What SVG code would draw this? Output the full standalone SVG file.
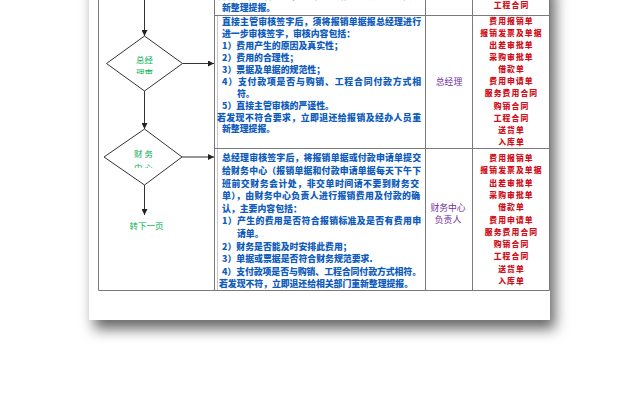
<svg xmlns="http://www.w3.org/2000/svg" width="640" height="407" viewBox="0 0 640 407">
  <defs>
    <filter id="shadow" x="-10%" y="-10%" width="125%" height="130%">
      <feDropShadow dx="5" dy="9" stdDeviation="7" flood-color="#000" flood-opacity="0.6"/>
    </filter>
    <marker id="arr" markerWidth="6" markerHeight="6" refX="6" refY="3" orient="auto" markerUnits="userSpaceOnUse">
      <path d="M0,0 L6,3 L0,6 Z" fill="#222"/>
    </marker>
    <clipPath id="clipD1"><rect x="100" y="40" width="90" height="34"/></clipPath>
    <clipPath id="clipD2"><rect x="100" y="135" width="90" height="33"/></clipPath>
  </defs>
  <style>
    .grid { stroke: #7a7a7a; stroke-width: 1; fill: none; }
    .flow { stroke: #333; stroke-width: 1; fill: none; }
    .dia { stroke: #333; stroke-width: 1; fill: #fff; }
    .blue { font-family: "Noto Sans CJK SC", "Noto Sans", sans-serif; font-size: 8.9px; font-weight: 900; fill: #0f5cbc; }
    .purple { font-family: "Noto Sans CJK SC", sans-serif; font-size: 8.8px; fill: #7030a0; text-anchor: middle; }
    .red { font-family: "Noto Sans CJK SC", sans-serif; font-size: 7.8px; font-weight: 900; fill: #d0101b; text-anchor: middle; letter-spacing: 1.1px; }
    .green { font-family: "Noto Sans CJK SC", sans-serif; font-size: 8.5px; fill: #00b050; text-anchor: middle; }
  </style>

  <rect x="0" y="0" width="640" height="407" fill="#fff"/>
  <rect id="paper" x="89" y="-20" width="461" height="340" fill="#fff" filter="url(#shadow)"/>

  <g id="table">
    <line class="grid" x1="98.5" y1="0" x2="98.5" y2="290.5"/>
    <line class="grid" x1="214.5" y1="0" x2="214.5" y2="290.5"/>
    <line x1="217.5" y1="15" x2="217.5" y2="290" stroke="#c8c8c8" stroke-width="1"/>
    <line class="grid" x1="425.5" y1="0" x2="425.5" y2="290.5"/>
    <line class="grid" x1="472.5" y1="0" x2="472.5" y2="290.5"/>
    <line class="grid" x1="549.5" y1="0" x2="549.5" y2="290.5"/>
    <line class="grid" x1="214.5" y1="15.5" x2="549.5" y2="15.5"/>
    <line class="grid" x1="214.5" y1="148.5" x2="549.5" y2="148.5"/>
    <line class="grid" x1="98.5" y1="290.5" x2="549.5" y2="290.5"/>
  </g>

  <g id="connectors">
    <line class="flow" x1="144.5" y1="0" x2="144.5" y2="36" marker-end="url(#arr)"/>
    <line class="flow" x1="182.5" y1="63.5" x2="214" y2="63.5" marker-end="url(#arr)"/>
    <line class="flow" x1="144.5" y1="91" x2="144.5" y2="129" marker-end="url(#arr)"/>
    <line class="flow" x1="182" y1="157" x2="214" y2="157" marker-end="url(#arr)"/>
    <line class="flow" x1="144.5" y1="185" x2="144.5" y2="215" marker-end="url(#arr)"/>
  </g>

  <g id="node-zongjingli">
    <polygon class="dia" points="144.5,36 182.5,63.5 144.5,91 106.5,63.5"/>
    <text class="green" x="144.5" y="63">总经</text>
    <text class="green" x="144.5" y="76" clip-path="url(#clipD1)">理审</text>
  </g>

  <g id="node-caiwu">
    <polygon class="dia" points="144.5,129 182,157 144.5,185 104,157"/>
    <text class="green" x="143.5" y="157">财 务</text>
    <text class="green" x="143.5" y="170.5" clip-path="url(#clipD2)">中 心</text>
  </g>

  <g id="node-next">
    <text class="green" x="146.5" y="229">转下一页</text>
  </g>

  <g id="row1">
    <text class="blue" x="217" y="-1.2" textLength="204" lengthAdjust="spacing">若发现不符合要求，立即退还给报销及经办人员重</text>
    <text class="blue" x="222" y="10.6">新整理提报。</text>
    <text class="red" x="511.5" y="7.9">工程合同</text>
  </g>

  <g id="row2">
    <text class="blue" x="222" y="25.3" textLength="199" lengthAdjust="spacing">直接主管审核签字后，须将报销单据报总经理进行</text>
    <text class="blue" x="222" y="37.2">进一步审核签字，审核内容包括：</text>
    <text class="blue" x="222" y="49.1">1）费用产生的原因及真实性；</text>
    <text class="blue" x="222" y="61">2）费用的合理性；</text>
    <text class="blue" x="222" y="72.9">3）票据及单据的规范性；</text>
    <text class="blue" x="222" y="84.8" textLength="199" lengthAdjust="spacing">4）支付款项是否与购销、工程合同付款方式相</text>
    <text class="blue" x="237" y="96.7">符。</text>
    <text class="blue" x="222" y="108.6">5）直接主管审核的严谨性。</text>
    <text class="blue" x="217" y="120.5" textLength="204" lengthAdjust="spacing">若发现不符合要求，立即退还给报销及经办人员重</text>
    <text class="blue" x="222" y="132.4">新整理提报。</text>
    <text class="purple" x="449" y="85.2">总经理</text>
    <text class="red" x="511.5" y="23.8">费用报销单</text>
    <text class="red" x="511.5" y="35.9">报销发票及单据</text>
    <text class="red" x="511.5" y="48">出差审批单</text>
    <text class="red" x="511.5" y="60.1">采购审批单</text>
    <text class="red" x="511.5" y="72.2">借款单</text>
    <text class="red" x="511.5" y="84.3">费用申请单</text>
    <text class="red" x="511.5" y="96.4">服务费用合同</text>
    <text class="red" x="511.5" y="108.5">购销合同</text>
    <text class="red" x="511.5" y="120.6">工程合同</text>
    <text class="red" x="511.5" y="132.7">送货单</text>
    <text class="red" x="511.5" y="144.8">入库单</text>
  </g>

  <g id="row3">
    <text class="blue" x="222" y="161.3" textLength="199" lengthAdjust="spacing">总经理审核签字后，将报销单据或付款申请单提交</text>
    <text class="blue" x="222" y="173.9" textLength="199" lengthAdjust="spacing">给财务中心（报销单据和付款申请单据每天下午下</text>
    <text class="blue" x="222" y="186.5" textLength="197" lengthAdjust="spacing">班前交财务会计处，非交单时间请不要到财务交</text>
    <text class="blue" x="222" y="199.1" textLength="198" lengthAdjust="spacing">单），由财务中心负责人进行报销费用及付款的确</text>
    <text class="blue" x="222" y="211.7">认，主要内容包括：</text>
    <text class="blue" x="222" y="224.3" textLength="199" lengthAdjust="spacing">1）产生的费用是否符合报销标准及是否有费用申</text>
    <text class="blue" x="237" y="236.9">请单。</text>
    <text class="blue" x="222" y="249.5">2）财务是否能及时安排此费用；</text>
    <text class="blue" x="222" y="262.1">3）单据或票据是否符合财务规范要求.</text>
    <text class="blue" x="222" y="274.7" textLength="199" lengthAdjust="spacing">4）支付款项是否与购销、工程合同付款方式相符。</text>
    <text class="blue" x="219" y="287.3" textLength="194" lengthAdjust="spacing">若发现不符，立即退还给相关部门重新整理提报。</text>
    <text class="purple" x="448" y="211">财务中心</text>
    <text class="purple" x="448" y="223">负责人</text>
    <text class="red" x="511.5" y="161.1">费用报销单</text>
    <text class="red" x="511.5" y="173.4">报销发票及单据</text>
    <text class="red" x="511.5" y="185.7">出差审批单</text>
    <text class="red" x="511.5" y="197.9">采购审批单</text>
    <text class="red" x="511.5" y="210.2">借款单</text>
    <text class="red" x="511.5" y="222.5">费用申请单</text>
    <text class="red" x="511.5" y="234.8">服务费用合同</text>
    <text class="red" x="511.5" y="247">购销合同</text>
    <text class="red" x="511.5" y="259.3">工程合同</text>
    <text class="red" x="511.5" y="271.6">送货单</text>
    <text class="red" x="511.5" y="283.8">入库单</text>
  </g>
</svg>
